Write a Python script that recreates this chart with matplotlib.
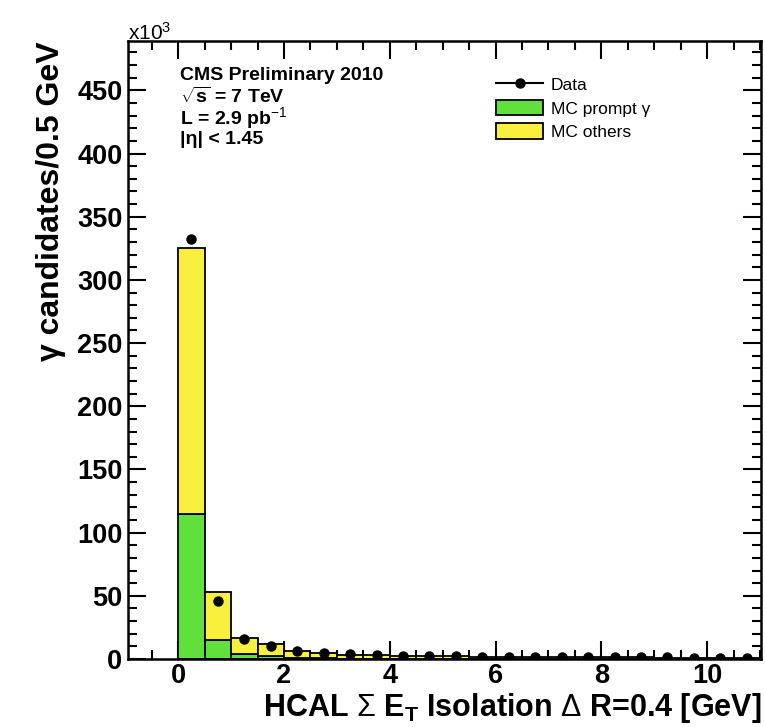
import matplotlib
matplotlib.use("Agg")
import matplotlib.pyplot as plt
from matplotlib.lines import Line2D
from matplotlib.patches import Patch
from matplotlib.ticker import MultipleLocator
import numpy as np

plt.rcParams['font.family'] = ['Liberation Sans', 'DejaVu Sans']
plt.rcParams['mathtext.fontset'] = 'custom'
plt.rcParams['mathtext.rm'] = 'Liberation Sans'
plt.rcParams['mathtext.it'] = 'Liberation Sans:italic'
plt.rcParams['mathtext.bf'] = 'Liberation Sans:bold'

# Histogram binning: 0.5 GeV bins from 0 to 11 GeV
bin_edges = np.arange(0.0, 11.0 + 0.25, 0.5)

# Counts in units of 10^3 per bin
data_counts = [332, 46, 15.5, 10.5, 6.0, 4.5, 3.6, 3.0, 2.6, 2.3, 2.1,
               1.9, 1.8, 1.7, 1.6, 1.5, 1.4, 1.3, 1.3, 1.2, 1.2, 1.1]
mc_prompt = [115, 15, 4.0, 2.0, 1.0, 0.6, 0.4, 0.3, 0.3, 0.2, 0.2,
             0.2, 0.2, 0.1, 0.1, 0.1, 0.1, 0.1, 0.1, 0.1, 0.1, 0.1]
mc_others = [210, 38, 13.0, 9.5, 5.5, 3.9, 3.1, 2.6, 2.2, 2.0, 1.8,
             1.6, 1.5, 1.5, 1.4, 1.3, 1.2, 1.2, 1.1, 1.1, 1.0, 1.0]

x_ticks = [0, 2, 4, 6, 8, 10]
y_ticks = [0, 50, 100, 150, 200, 250, 300, 350, 400, 450]

green = '#5fe03a'
yellow = '#f8f03c'

fig = plt.figure(figsize=(7.65, 7.27), dpi=100)
ax = fig.add_axes([0.1673, 0.0935, 0.8275, 0.850])

lefts = bin_edges[:-1]
widths = np.diff(bin_edges)
centers = lefts + widths / 2

ax.bar(lefts, mc_prompt, width=widths, align='edge', color=green,
       edgecolor='black', linewidth=1.3, zorder=2)
ax.bar(lefts, mc_others, width=widths, align='edge', bottom=mc_prompt,
       color=yellow, edgecolor='black', linewidth=1.3, zorder=2)
ax.plot(centers, data_counts, 'o', color='black', markersize=6.5, zorder=4)

ax.set_xlim(-0.95, 11.02)
ax.set_ylim(0, 489)

ax.set_xticks(x_ticks)
ax.set_yticks(y_ticks)
ax.xaxis.set_minor_locator(MultipleLocator(0.5))
ax.yaxis.set_minor_locator(MultipleLocator(10))
ax.tick_params(which='both', direction='in', top=True, right=True,
               width=1.5, labelsize=19.5)
ax.tick_params(which='major', length=13)
ax.tick_params(which='minor', length=6.5)
ax.tick_params(axis='x', pad=3)
ax.tick_params(axis='y', pad=4)
for lab in ax.get_xticklabels() + ax.get_yticklabels():
    lab.set_fontweight('bold')
for sp in ax.spines.values():
    sp.set_linewidth(1.8)

ax.set_xlabel(r'HCAL $\Sigma$ E$_{\mathbf{T}}$ Isolation $\Delta$ R=0.4 [GeV]',
              fontsize=22, fontweight='bold', loc='right', labelpad=1.5)
ax.set_ylabel('γ candidates/0.5 GeV', fontsize=23, fontweight='bold',
              loc='top', labelpad=8)

ax.text(0.0, 0.995, r'x10$^{3}$', transform=ax.transAxes, ha='left',
        va='bottom', fontsize=15)

info = ['CMS Preliminary 2010', r'$\sqrt{\mathbf{s}}$ = 7 TeV',
        r'L = 2.9 pb$^{-1}$', '|η| < 1.45']
for i, line in enumerate(info):
    fig.text(180 / 765, 1 - (75 + 21.5 * i) / 727, line, fontsize=14,
             fontweight='bold', ha='left', va='center')

handles = [
    Line2D([], [], color='black', marker='o', markersize=6.5, linewidth=1.5),
    Patch(facecolor=green, edgecolor='black', linewidth=1.3),
    Patch(facecolor=yellow, edgecolor='black', linewidth=1.3),
]
labels = ['Data', 'MC prompt γ', 'MC others']
fig.legend(handles, labels, loc='upper left',
           bbox_to_anchor=(484 / 765, 1 - 64 / 727), frameon=False,
           fontsize=12.5, handlelength=2.7, handleheight=1.0,
           labelspacing=0.4, handletextpad=0.45, borderpad=0.2)

fig.savefig('out.png', dpi=100)
